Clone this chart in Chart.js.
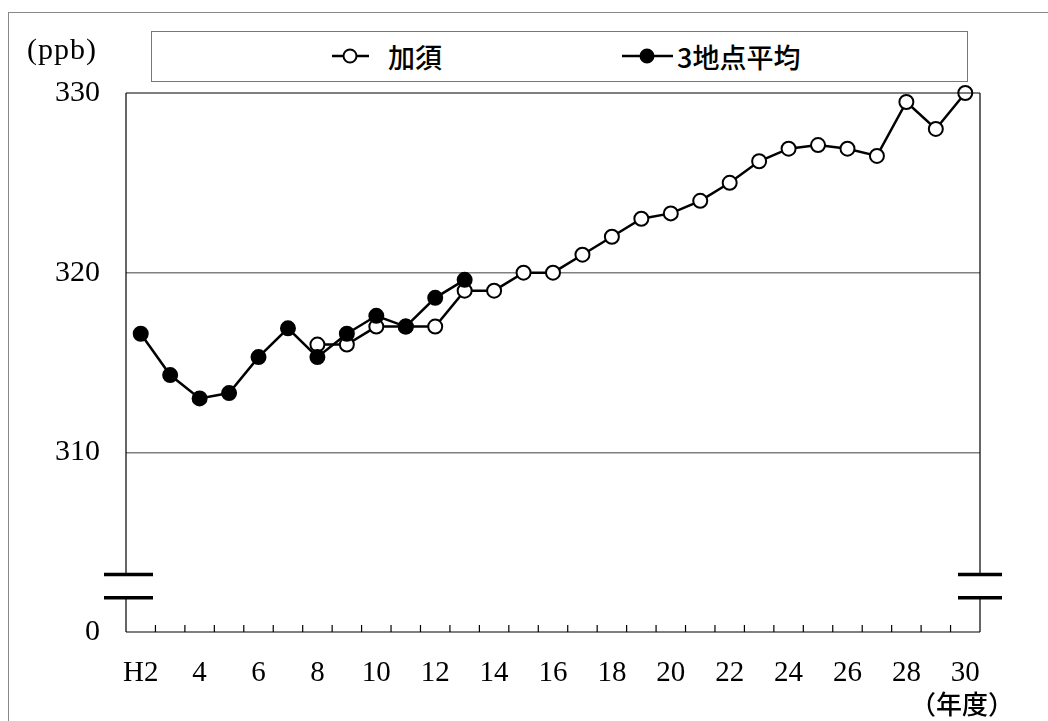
<!DOCTYPE html>
<html>
<head>
<meta charset="utf-8">
<script src="https://cdn.jsdelivr.net/npm/chart.js@4.4.1/dist/chart.umd.min.js"></script>
<style>
  body { margin: 0; background: #fff; }
  #wrap { position: relative; width: 1048px; height: 721px; overflow: hidden; }
  #frame { position: absolute; left: 8px; top: 12px; width: 1100px; height: 800px; border: 1.5px solid #888; }
  #legend { position: absolute; left: 151px; top: 31px; width: 815px; height: 49px; border: 1.5px solid #777; background: #fff; }
  #legend svg { position: absolute; top: 0; }
  #legend span { position: absolute; top: 0; line-height: 49px; font-family: "Noto Sans CJK JP", sans-serif; font-size: 27px; font-weight: 500; color: #000; white-space: nowrap; }
  .txt { position: absolute; color: #000; white-space: nowrap; }
  #unit { left: 27px; top: 32px; font-family: "Liberation Serif", serif; font-size: 30px; letter-spacing: 1px; }
  #nendo { left: 910px; top: 684px; font-family: "Noto Sans CJK JP", sans-serif; font-size: 26px; font-weight: 500; }
  canvas { position: absolute; left: 0; top: 0; }
</style>
</head>
<body>
<div id="wrap">
  <div id="frame"></div>
  <canvas id="lineChart"></canvas>
  <div id="legend"></div>
  <div class="txt" id="unit">(ppb)</div>
  <div class="txt" id="nendo">（年度）</div>
</div>
<script>
const years = ['H2', '3', '4', '5', '6', '7', '8', '9', '10', '11', '12', '13', '14', '15', '16',
    '17', '18', '19', '20', '21', '22', '23', '24', '25', '26', '27', '28', '29', '30'];
const seriesNames = ['加須', '3地点平均'];
const kazoValues = [null, null, null, null, null, null,
    316, 316, 317, 317, 317, 319, 319, 320, 320, 321, 322, 323, 323.3, 324, 325,
    326.2, 326.9, 327.1, 326.9, 326.5, 329.5, 328, 330];
const avgValues = [316.6, 314.3, 313, 313.3, 315.3, 316.9, 315.3, 316.6, 317.6, 317, 318.6, 319.6,
    null, null, null, null, null, null, null, null, null, null, null, null, null, null, null, null, null];
const yTicks = [300, 310, 320, 330];
const yTickLabels = ['0', '310', '320', '330'];

const canvasEl = document.getElementById('lineChart');
canvasEl.width = 1048;
canvasEl.height = 721;

// plot frame, x ticks and axis break marks
const framePlugin = {
    id: 'framePlugin',
    afterDraw(chart) {
        const ctx = chart.ctx;
        const a = chart.chartArea;
        const x = chart.scales.x;
        const y = chart.scales.y;
        const b1 = y.getPixelForValue(303.2);
        const b2 = y.getPixelForValue(301.9);
        ctx.save();
        ctx.strokeStyle = '#000';
        ctx.lineWidth = 1.2;
        ctx.beginPath();
        ctx.moveTo(a.left, a.top);
        ctx.lineTo(a.right, a.top);
        [a.left, a.right].forEach(function (px) {
            ctx.moveTo(px, a.top);
            ctx.lineTo(px, b1);
            ctx.moveTo(px, b2);
            ctx.lineTo(px, a.bottom);
        });
        ctx.moveTo(a.left, a.bottom);
        ctx.lineTo(a.right, a.bottom);
        for (let i = 1; i < years.length; i++) {
            const px = (x.getPixelForValue(i - 1) + x.getPixelForValue(i)) / 2;
            ctx.moveTo(px, a.bottom);
            ctx.lineTo(px, a.bottom - 7);
        }
        ctx.stroke();
        ctx.lineWidth = 3.5;
        ctx.beginPath();
        ctx.moveTo(a.left - 22, b1);
        ctx.lineTo(a.left + 27, b1);
        ctx.moveTo(a.left - 22, b2);
        ctx.lineTo(a.left + 27, b2);
        ctx.moveTo(a.right - 22, b1);
        ctx.lineTo(a.right + 22, b1);
        ctx.moveTo(a.right - 22, b2);
        ctx.lineTo(a.right + 22, b2);
        ctx.stroke();
        ctx.restore();
    }
};

const lineChart = new Chart(canvasEl, {
    type: 'line',
    data: {
        labels: years,
        datasets: [
            {
                label: seriesNames[0],
                data: kazoValues,
                order: 1,
                borderColor: '#000',
                borderWidth: 2.5,
                pointRadius: 7,
                pointBorderWidth: 2,
                pointBackgroundColor: '#fff',
                pointBorderColor: '#000',
                clip: false
            },
            {
                label: seriesNames[1],
                data: avgValues,
                order: 0,
                borderColor: '#000',
                borderWidth: 2.5,
                pointRadius: 7,
                pointBorderWidth: 2,
                pointBackgroundColor: '#000',
                pointBorderColor: '#000',
                clip: false
            }
        ]
    },
    options: {
        responsive: false,
        animation: false,
        layout: {
            padding: { top: 93, right: 68, left: 0, bottom: 0 }
        },
        plugins: {
            legend: { display: false },
            tooltip: { enabled: false }
        },
        scales: {
            x: {
                offset: true,
                border: { display: false },
                grid: { display: false, drawTicks: false },
                afterFit: function (scale) { scale.height = 89; },
                ticks: {
                    autoSkip: false,
                    maxRotation: 0,
                    padding: 24,
                    color: '#000',
                    font: { family: 'Liberation Serif', size: 29 },
                    callback: function (value, index) {
                        return index % 2 === 0 ? years[index] : '';
                    }
                }
            },
            y: {
                min: 300,
                max: 330,
                border: { display: false },
                afterFit: function (scale) { scale.width = 126; },
                afterBuildTicks: function (scale) {
                    scale.ticks = yTicks.map(function (v) { return { value: v }; });
                },
                grid: {
                    drawTicks: false,
                    lineWidth: 1.5,
                    color: function (c) {
                        return (c.tick && (c.tick.value === 310 || c.tick.value === 320)) ? '#808080' : 'rgba(0,0,0,0)';
                    }
                },
                ticks: {
                    padding: 26,
                    color: '#000',
                    font: { family: 'Liberation Serif', size: 30 },
                    callback: function (value) {
                        return yTickLabels[yTicks.indexOf(value)];
                    }
                }
            }
        }
    },
    plugins: [framePlugin]
});

// legend built from the datasets (positions relative to the legend box)
const legendEl = document.getElementById('legend');
const legendSpots = [
    { symLeft: 180, symWidth: 37, dotCenter: 18, textLeft: 236 },
    { symLeft: 470, symWidth: 51, dotCenter: 25, textLeft: 525 }
];
lineChart.data.datasets.forEach(function (ds, i) {
    const s = legendSpots[i];
    const svgNS = 'http://www.w3.org/2000/svg';
    const svg = document.createElementNS(svgNS, 'svg');
    svg.setAttribute('width', s.symWidth);
    svg.setAttribute('height', 49);
    svg.style.left = s.symLeft + 'px';
    const ln = document.createElementNS(svgNS, 'line');
    ln.setAttribute('x1', 0);
    ln.setAttribute('x2', s.symWidth);
    ln.setAttribute('y1', 24);
    ln.setAttribute('y2', 24);
    ln.setAttribute('stroke', ds.borderColor);
    ln.setAttribute('stroke-width', 2.5);
    const dot = document.createElementNS(svgNS, 'circle');
    dot.setAttribute('cx', s.dotCenter);
    dot.setAttribute('cy', 24);
    dot.setAttribute('r', 6.5);
    dot.setAttribute('fill', ds.pointBackgroundColor);
    dot.setAttribute('stroke', ds.pointBorderColor);
    dot.setAttribute('stroke-width', 2);
    svg.appendChild(ln);
    svg.appendChild(dot);
    const label = document.createElement('span');
    label.textContent = ds.label;
    label.style.left = s.textLeft + 'px';
    legendEl.appendChild(svg);
    legendEl.appendChild(label);
});
</script>
</body>
</html>
